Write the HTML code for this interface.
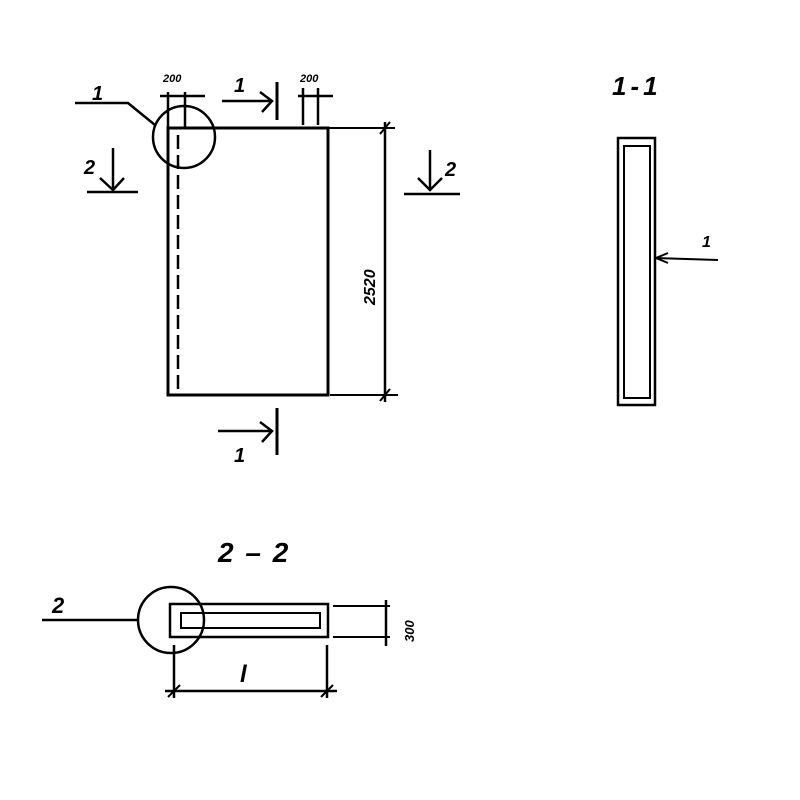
<!DOCTYPE html>
<html><head><style>body{margin:0;background:#fff}svg{display:block}text{font-family:"Liberation Sans",sans-serif;font-weight:bold;font-style:italic;fill:#000}</style></head><body>
<svg width="800" height="800" viewBox="0 0 800 800" stroke="#000" fill="none" stroke-width="2.5">
<rect x="168" y="128" width="160" height="267" stroke-width="3"/>
<line x1="178" y1="135" x2="178" y2="395" stroke-dasharray="14,6"/>
<line x1="328" y1="128" x2="395" y2="128" stroke-width="2"/>
<line x1="330" y1="395" x2="398" y2="395" stroke-width="2"/>
<line x1="385" y1="122" x2="385" y2="402"/>
<line x1="380" y1="134" x2="390" y2="122" stroke-width="2"/><line x1="380" y1="401" x2="390" y2="389" stroke-width="2"/>
<text x="0" y="0" font-size="16" transform="translate(375,305) rotate(-90)" stroke="none">2520</text>
<circle cx="184" cy="137" r="31"/>
<polyline points="75,103 128,103 155,125"/>
<text x="92" y="100" font-size="20" stroke="none">1</text>
<line x1="168" y1="92" x2="168" y2="128"/><line x1="185" y1="92" x2="185" y2="128"/><line x1="160" y1="96" x2="205" y2="96"/>
<line x1="303" y1="88" x2="303" y2="125"/><line x1="318" y1="88" x2="318" y2="125"/><line x1="298" y1="96" x2="333" y2="96"/>
<text x="163" y="82" font-size="11" stroke="none">200</text><text x="300" y="82" font-size="11" stroke="none">200</text>
<line x1="222" y1="101" x2="272" y2="101"/><polyline points="260,92 272,101 262,112"/><line x1="277" y1="82" x2="277" y2="120" stroke-width="3"/>
<text x="234" y="92" font-size="20" stroke="none">1</text>
<line x1="218" y1="431" x2="272" y2="431"/><polyline points="260,422 272,431 262,442"/><line x1="277" y1="408" x2="277" y2="455" stroke-width="3"/>
<text x="234" y="462" font-size="20" stroke="none">1</text>
<line x1="113" y1="148" x2="113" y2="190"/><polyline points="100,178 113,190 124,178"/><line x1="87" y1="192" x2="138" y2="192"/>
<text x="84" y="174" font-size="20" stroke="none">2</text>
<line x1="430" y1="150" x2="430" y2="190"/><polyline points="418,178 430,190 442,178"/><line x1="404" y1="194" x2="460" y2="194"/>
<text x="445" y="176" font-size="20" stroke="none">2</text>
<text x="612" y="95" font-size="26" letter-spacing="4" stroke="none">1-1</text>
<rect x="618" y="138" width="37" height="267"/>
<rect x="624" y="146" width="26" height="252" stroke-width="2"/>
<line x1="655" y1="258" x2="718" y2="260" stroke-width="2"/><polyline points="668,253 656,258 668,263" stroke-width="2"/>
<text x="702" y="247" font-size="16" stroke="none">1</text>
<text x="218" y="562" font-size="28" font-style="normal" letter-spacing="2" stroke="none">2 – 2</text>
<rect x="170" y="604" width="158" height="33"/>
<rect x="181" y="613" width="139" height="15" stroke-width="2"/>
<circle cx="171" cy="620" r="33"/>
<line x1="42" y1="620" x2="138" y2="620"/>
<text x="52" y="613" font-size="22" font-style="normal" stroke="none">2</text>
<line x1="333" y1="606" x2="390" y2="606" stroke-width="2"/><line x1="333" y1="637" x2="390" y2="637" stroke-width="2"/>
<line x1="386" y1="600" x2="386" y2="646"/>
<text x="0" y="0" font-size="13" transform="translate(414,642) rotate(-90)" stroke="none">300</text>
<line x1="174" y1="645" x2="174" y2="698"/><line x1="327" y1="645" x2="327" y2="698"/>
<line x1="165" y1="691" x2="337" y2="691"/>
<line x1="168" y1="697" x2="180" y2="685" stroke-width="2"/><line x1="321" y1="697" x2="333" y2="685" stroke-width="2"/>
<text x="240" y="682" font-size="24" stroke="none">l</text>
</svg></body></html>
